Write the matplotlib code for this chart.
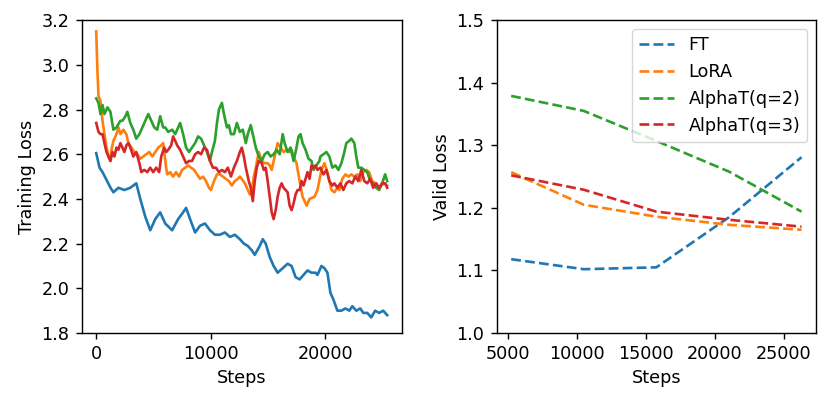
import matplotlib
matplotlib.use("Agg")
import matplotlib.pyplot as plt

# ---------------- Training loss (left panel) ----------------
ft_steps = [0, 290, 550, 1250, 1500, 1940, 2460, 2980, 3500, 3850, 4290, 4720, 5160, 5590,
            6030, 6630, 7160, 7590, 7850, 8200, 8640, 9070, 9500, 9940, 10370, 10810, 11240,
            11680, 12110, 12550, 12900, 13240, 13590, 13850, 14290, 14550, 14810, 15160, 15500,
            15850, 16290, 16720, 17070, 17420, 17770, 18110, 18460, 18810, 19160, 19330, 19680,
            19940, 20200, 20460, 20720, 21070, 21420, 21770, 22110, 22370, 22720, 23070, 23330,
            23680, 24030, 24370, 24720, 25070, 25420]
ft_loss = [2.605, 2.54, 2.52, 2.45, 2.43, 2.45, 2.44, 2.45, 2.47, 2.40, 2.32, 2.26, 2.31, 2.34,
           2.29, 2.26, 2.31, 2.34, 2.36, 2.31, 2.25, 2.28, 2.29, 2.26, 2.24, 2.24, 2.25,
           2.23, 2.24, 2.22, 2.20, 2.19, 2.17, 2.15, 2.19, 2.22, 2.20, 2.14, 2.10,
           2.07, 2.09, 2.11, 2.10, 2.05, 2.04, 2.06, 2.08, 2.07, 2.07, 2.06, 2.10,
           2.09, 2.07, 1.98, 1.95, 1.90, 1.90, 1.91, 1.90, 1.92, 1.90, 1.91, 1.89,
           1.89, 1.87, 1.90, 1.89, 1.90, 1.88]

lora_steps = [0, 100, 200, 370, 550, 720, 900, 1070, 1240, 1330, 1500, 1770, 1940, 2110, 2370,
              2630, 2810, 3070, 3330, 3590, 3850, 4110, 4370, 4640, 4900, 5160, 5420, 5680,
              5850, 5940, 6110, 6200, 6460, 6720, 6980, 7240, 7500, 7770, 8030, 8290, 8550,
              8810, 9070, 9330, 9590, 9850, 10030, 10290, 10550, 10810, 11070, 11330, 11590,
              11850, 12110, 12370, 12550, 12990, 13420, 13590, 13770, 13940, 14200, 14460, 14720,
              14980, 15160, 15330, 15590, 15850, 16110, 16370, 16640, 16900, 17070, 17330, 17500,
              17770, 18030, 18380, 18640, 19070, 19330, 19680, 19940, 20200, 20550, 20810, 21070,
              21240, 21500, 21770, 22030, 22290, 22550, 22810, 23070, 23330, 23590, 23850, 24110,
              24370, 24640, 24900, 25160, 25420]
lora_loss = [3.15, 2.98, 2.86, 2.84, 2.75, 2.69, 2.63, 2.59, 2.57, 2.62, 2.66, 2.69, 2.72, 2.69, 2.71,
             2.69, 2.65, 2.63, 2.61, 2.60, 2.58, 2.59, 2.60, 2.61, 2.59, 2.61, 2.63, 2.64,
             2.65, 2.61, 2.54, 2.51, 2.52, 2.50, 2.52, 2.50, 2.53, 2.54, 2.55, 2.54, 2.53,
             2.51, 2.49, 2.50, 2.48, 2.45, 2.44, 2.48, 2.51, 2.51, 2.50, 2.49, 2.48,
             2.46, 2.48, 2.49, 2.50, 2.47, 2.42, 2.44, 2.50, 2.54, 2.61, 2.57, 2.56,
             2.56, 2.55, 2.53, 2.59, 2.65, 2.63, 2.61, 2.62, 2.61, 2.62, 2.58, 2.56,
             2.48, 2.41, 2.37, 2.40, 2.41, 2.44, 2.53, 2.56, 2.52, 2.44, 2.43, 2.45,
             2.44, 2.49, 2.51, 2.50, 2.51, 2.50, 2.51, 2.48, 2.52, 2.53, 2.52, 2.48,
             2.47, 2.45, 2.46, 2.47, 2.46]

q2_steps = [0, 200, 370, 550, 720, 980, 1240, 1500, 1770, 2110, 2290, 2550, 2720, 2980, 3240,
            3500, 3770, 4030, 4290, 4550, 4810, 5070, 5330, 5590, 5850, 6030, 6290, 6640, 6900,
            7160, 7330, 7590, 7850, 8110, 8370, 8640, 8900, 9160, 9420, 9680, 9940, 10110,
            10370, 10550, 10720, 10980, 11160, 11420, 11590, 11770, 12030, 12290, 12550, 12810,
            13070, 13240, 13500, 13680, 13940, 14200, 14460, 14720, 14980, 15240, 15500, 15770,
            16030, 16290, 16460, 16720, 16980, 17240, 17420, 17680, 17850, 18030, 18290, 18550,
            18810, 18980, 19240, 19500, 19590, 19850, 20110, 20370, 20630, 20900, 21160, 21420,
            21680, 21850, 22110, 22290, 22550, 22720, 22900, 23160, 23420, 23680, 23940, 24200,
            24460, 24720, 24980, 25240, 25420]
q2_loss = [2.85, 2.83, 2.78, 2.82, 2.78, 2.81, 2.79, 2.71, 2.72, 2.75, 2.75, 2.77, 2.79, 2.74, 2.71,
           2.67, 2.69, 2.72, 2.75, 2.78, 2.75, 2.72, 2.71, 2.77, 2.72, 2.72, 2.70, 2.71, 2.69,
           2.72, 2.74, 2.69, 2.63, 2.61, 2.63, 2.65, 2.68, 2.67, 2.64, 2.61, 2.57, 2.61,
           2.66, 2.74, 2.80, 2.83, 2.78, 2.72, 2.73, 2.69, 2.69, 2.74, 2.70, 2.71,
           2.65, 2.69, 2.73, 2.69, 2.63, 2.59, 2.57, 2.60, 2.61, 2.59, 2.60, 2.62,
           2.60, 2.69, 2.65, 2.61, 2.63, 2.57, 2.61, 2.68, 2.69, 2.65, 2.62, 2.58,
           2.57, 2.53, 2.55, 2.57, 2.59, 2.60, 2.61, 2.59, 2.54, 2.55, 2.53, 2.56,
           2.61, 2.65, 2.66, 2.67, 2.65, 2.59, 2.54, 2.54, 2.53, 2.52, 2.48, 2.47,
           2.45, 2.44, 2.47, 2.51, 2.48]

q3_steps = [0, 200, 370, 550, 720, 900, 1070, 1240, 1420, 1590, 1770, 1940, 2110, 2290, 2460,
            2640, 2810, 2980, 3240, 3500, 3770, 3940, 4200, 4460, 4720, 4980, 5240, 5500, 5680,
            5940, 6110, 6290, 6550, 6720, 6900, 7070, 7330, 7590, 7850, 8110, 8370, 8640, 8900,
            9160, 9420, 9680, 9940, 10200, 10460, 10720, 10980, 11240, 11500, 11770, 12030,
            12290, 12550, 12720, 12900, 13070, 13330, 13500, 13680, 13850, 14030, 14200, 14460,
            14640, 14810, 14980, 15160, 15330, 15500, 15680, 15850, 16030, 16200, 16370, 16550,
            16720, 16900, 17070, 17240, 17420, 17590, 17770, 17940, 18110, 18290, 18460, 18640,
            18810, 18980, 19160, 19330, 19590, 19850, 20110, 20370, 20630, 20810, 21070, 21330,
            21590, 21850, 22110, 22370, 22640, 22900, 23160, 23420, 23680, 23940, 24200, 24460,
            24720, 24980, 25240, 25420]
q3_loss = [2.74, 2.70, 2.69, 2.69, 2.65, 2.61, 2.59, 2.57, 2.61, 2.59, 2.63, 2.62, 2.65, 2.63, 2.61,
           2.64, 2.65, 2.63, 2.59, 2.61, 2.56, 2.52, 2.53, 2.52, 2.54, 2.52, 2.54, 2.52, 2.59,
           2.63, 2.61, 2.62, 2.64, 2.68, 2.66, 2.64, 2.62, 2.59, 2.56, 2.57, 2.57, 2.60, 2.61,
           2.60, 2.63, 2.62, 2.57, 2.54, 2.54, 2.52, 2.53, 2.52, 2.54, 2.50, 2.54,
           2.57, 2.61, 2.63, 2.59, 2.54, 2.48, 2.45, 2.39, 2.48, 2.54, 2.57, 2.56,
           2.53, 2.54, 2.48, 2.41, 2.34, 2.31, 2.35, 2.41, 2.45, 2.47, 2.45, 2.44,
           2.43, 2.37, 2.35, 2.38, 2.42, 2.44, 2.44, 2.48, 2.46, 2.49, 2.52, 2.49,
           2.55, 2.54, 2.55, 2.53, 2.54, 2.51, 2.53, 2.48, 2.46, 2.47, 2.45, 2.47,
           2.44, 2.47, 2.48, 2.47, 2.50, 2.48, 2.53, 2.48, 2.47, 2.49, 2.45, 2.47,
           2.45, 2.47, 2.47, 2.45]

# ---------------- Validation loss (right panel) ----------------
valid_steps = [5256, 10512, 15768, 21024, 26280]
valid_ft = [1.118, 1.102, 1.105, 1.185, 1.281]
valid_lora = [1.257, 1.205, 1.186, 1.173, 1.165]
valid_q2 = [1.379, 1.355, 1.307, 1.258, 1.194]
valid_q3 = [1.252, 1.229, 1.194, 1.181, 1.170]

labels = ["FT", "LoRA", "AlphaT(q=2)", "AlphaT(q=3)"]
colors = ["#1f77b4", "#ff7f0e", "#2ca02c", "#d62728"]

s = 1.27
plt.rcParams.update({
    "font.family": ["DejaVu Sans"],
    "font.size": 10 * s,
    "lines.linewidth": 1.5 * s,
    "axes.linewidth": 0.8 * s,
    "xtick.major.width": 0.8 * s,
    "ytick.major.width": 0.8 * s,
    "xtick.major.size": 3.5 * s,
    "ytick.major.size": 3.5 * s,
    "xtick.major.pad": 3.5 * s,
    "ytick.major.pad": 3.5 * s,
})

fig = plt.figure(figsize=(8.3, 4.04), dpi=100)
ax1 = fig.add_axes([0.0984, 0.1757, 0.3856, 0.7743])
ax2 = fig.add_axes([0.5984, 0.1757, 0.3848, 0.7743])

train = [(ft_steps, ft_loss), (lora_steps, lora_loss), (q2_steps, q2_loss), (q3_steps, q3_loss)]
for (xs, ys), c in zip(train, colors):
    ax1.plot(xs, ys, color=c)
ax1.set_ylim(1.8, 3.2)
ax1.set_yticks([1.8, 2.0, 2.2, 2.4, 2.6, 2.8, 3.0, 3.2])
ax1.set_xticks([0, 10000, 20000])
ax1.set_xlabel("Steps")
ax1.set_ylabel("Training Loss")

for ys, c, lab in zip([valid_ft, valid_lora, valid_q2, valid_q3], colors, labels):
    ax2.plot(valid_steps, ys, linestyle="--", color=c, label=lab)
ax2.set_ylim(1.0, 1.5)
ax2.set_yticks([1.0, 1.1, 1.2, 1.3, 1.4, 1.5])
ax2.set_xticks([5000, 10000, 15000, 20000, 25000])
ax2.set_xlabel("Steps")
ax2.set_ylabel("Valid Loss")
ax2.legend(loc="upper right")

fig.savefig("out.png", dpi=100)
